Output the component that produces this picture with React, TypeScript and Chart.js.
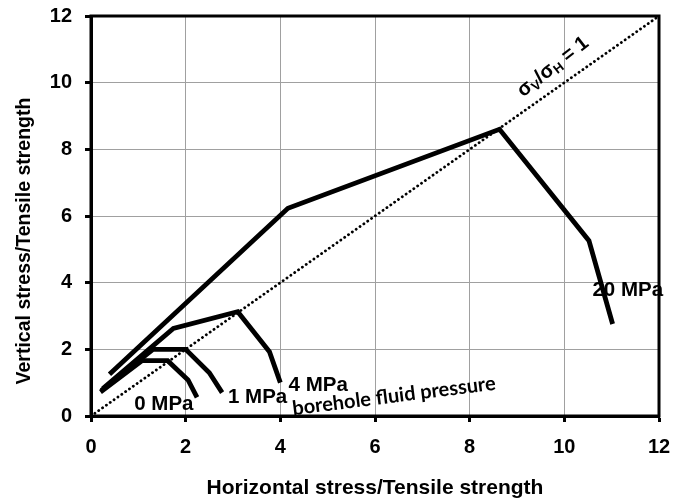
import React, { useEffect, useRef } from "react";
import { Chart, registerables } from "chart.js";

Chart.register(...registerables);

// ---- data ----
const axisMin = 0;
const axisMax = 12;
const axisStep = 2;

const p0X = [0.2, 1.08, 1.62, 2.05, 2.24];
const p0Y = [0.72, 1.66, 1.66, 1.08, 0.56];

const p1X = [0.22, 1.31, 2.0, 2.5, 2.77];
const p1Y = [0.77, 2.0, 2.0, 1.3, 0.7];

const p4X = [0.25, 1.74, 3.1, 3.77, 4.0];
const p4Y = [0.82, 2.63, 3.13, 1.93, 1.0];

const p20X = [0.39, 4.16, 8.63, 10.52, 11.02];
const p20Y = [1.25, 6.23, 8.6, 5.26, 2.76];

const refX = [0, 12];
const refY = [0, 12];

const seriesNames = ["0 MPa", "1 MPa", "4 MPa", "20 MPa"];
const xTitle = "Horizontal stress/Tensile strength";
const yTitle = "Vertical stress/Tensile strength";
const noteText = "borehole fluid pressure";

// ---- label anchors (data coordinates) ----
const seriesLabelAt = [
  [1.54, 0.36],
  [3.52, 0.57],
  [4.8, 0.93],
  [11.34, 3.78],
];
const noteAt = [6.4, 0.6];
const ratioAt = [9.76, 10.47];

const FONT = "'Liberation Sans', Arial, sans-serif";

const zip = (xs: number[], ys: number[]) => xs.map((x, i) => ({ x, y: ys[i] }));

const overlay = {
  id: "overlay",
  afterDraw(chart: any) {
    const { ctx, chartArea: a, scales } = chart;
    const sx = scales.x;
    const sy = scales.y;
    ctx.save();
    // frame
    ctx.strokeStyle = "#000";
    ctx.lineWidth = 3;
    ctx.strokeRect(a.left, a.top, a.right - a.left, a.bottom - a.top);

    ctx.fillStyle = "#000";
    // axis titles
    ctx.font = `bold 21px ${FONT}`;
    ctx.textAlign = "center";
    ctx.textBaseline = "middle";
    ctx.fillText(xTitle, 375, 488);
    ctx.save();
    ctx.translate(25, 241);
    ctx.rotate(-Math.PI / 2);
    ctx.font = `bold 19.5px ${FONT}`;
    ctx.fillText(yTitle, 0, 0);
    ctx.restore();

    // series labels
    ctx.font = `bold 20.5px ${FONT}`;
    seriesNames.forEach((n, i) => {
      const [vx, vy] = seriesLabelAt[i];
      ctx.fillText(n, sx.getPixelForValue(vx), sy.getPixelForValue(vy));
    });

    // note
    ctx.save();
    ctx.translate(sx.getPixelForValue(noteAt[0]), sy.getPixelForValue(noteAt[1]));
    ctx.rotate((-7.2 * Math.PI) / 180);
    ctx.font = `bold 20px Lato, 'Open Sans', sans-serif`;
    ctx.fillText(noteText, 0, 0);
    ctx.restore();

    // ratio label
    ctx.save();
    ctx.translate(sx.getPixelForValue(ratioAt[0]), sy.getPixelForValue(ratioAt[1]));
    ctx.rotate((-38 * Math.PI) / 180);
    const big = `bold 20px ${FONT}`;
    const small = `bold 13px ${FONT}`;
    const parts: [string, string, number][] = [
      ["σ", big, 0],
      ["V", small, 5],
      ["/σ", big, 0],
      ["H", small, 5],
      [" = 1", big, 0],
    ];
    let total = 0;
    parts.forEach(([t, f]) => {
      ctx.font = f;
      total += ctx.measureText(t).width;
    });
    let cx = -total / 2;
    ctx.textAlign = "left";
    parts.forEach(([t, f, dy]) => {
      ctx.font = f;
      ctx.fillText(t, cx, dy);
      cx += ctx.measureText(t).width;
    });
    ctx.restore();

    ctx.restore();
  },
};

export default function App() {
  const ref = useRef<HTMLCanvasElement | null>(null);

  useEffect(() => {
    if (!ref.current) return;
    const lineStyle = {
      showLine: true,
      borderColor: "#000",
      backgroundColor: "#000",
      borderWidth: 4.8,
      pointRadius: 0,
      borderJoinStyle: "miter" as const,
      borderCapStyle: "butt" as const,
      tension: 0,
      fill: false,
    };
    const chart = new Chart(ref.current, {
      type: "scatter",
      data: {
        datasets: [
          {
            data: zip(refX, refY),
            showLine: true,
            borderColor: "#000",
            borderWidth: 2.8,
            borderDash: [0.1, 4.6],
            borderCapStyle: "round",
            pointRadius: 0,
            fill: false,
          },
          { ...lineStyle, data: zip(p0X, p0Y) },
          { ...lineStyle, data: zip(p1X, p1Y) },
          { ...lineStyle, data: zip(p4X, p4Y) },
          { ...lineStyle, data: zip(p20X, p20Y) },
        ],
      },
      options: {
        animation: false,
        responsive: true,
        maintainAspectRatio: false,
        layout: { padding: { left: 0, top: 16, right: 28, bottom: 0 } },
        plugins: {
          legend: { display: false },
          tooltip: { enabled: false },
          title: { display: false },
        },
        scales: {
          x: {
            type: "linear",
            min: axisMin,
            max: axisMax,
            ticks: {
              stepSize: axisStep,
              color: "#000",
              font: { family: FONT, size: 20, weight: "bold" },
              padding: 13,
              maxRotation: 0,
            },
            grid: {
              color: "#a0a0a0",
              lineWidth: 1,
              tickColor: "#000",
              tickWidth: 3,
              tickLength: 6,
            },
            border: { color: "#000", width: 3 },
            afterFit(s: any) {
              s.height = 85;
              s.paddingLeft = 0;
              s.paddingRight = 0;
            },
          },
          y: {
            type: "linear",
            min: axisMin,
            max: axisMax,
            ticks: {
              stepSize: axisStep,
              color: "#000",
              font: { family: FONT, size: 20, weight: "bold" },
              padding: 13,
            },
            grid: {
              color: "#a0a0a0",
              lineWidth: 1,
              tickColor: "#000",
              tickWidth: 3,
              tickLength: 6,
            },
            border: { color: "#000", width: 3 },
            afterFit(s: any) {
              s.width = 91;
              s.paddingTop = 0;
              s.paddingBottom = 0;
            },
          },
        },
      },
      plugins: [overlay],
    });
    return () => chart.destroy();
  }, []);

  return (
    <div style={{ position: "fixed", left: 0, top: 0, width: 687, height: 501, background: "#fff" }}>
      <canvas ref={ref} />
    </div>
  );
}
